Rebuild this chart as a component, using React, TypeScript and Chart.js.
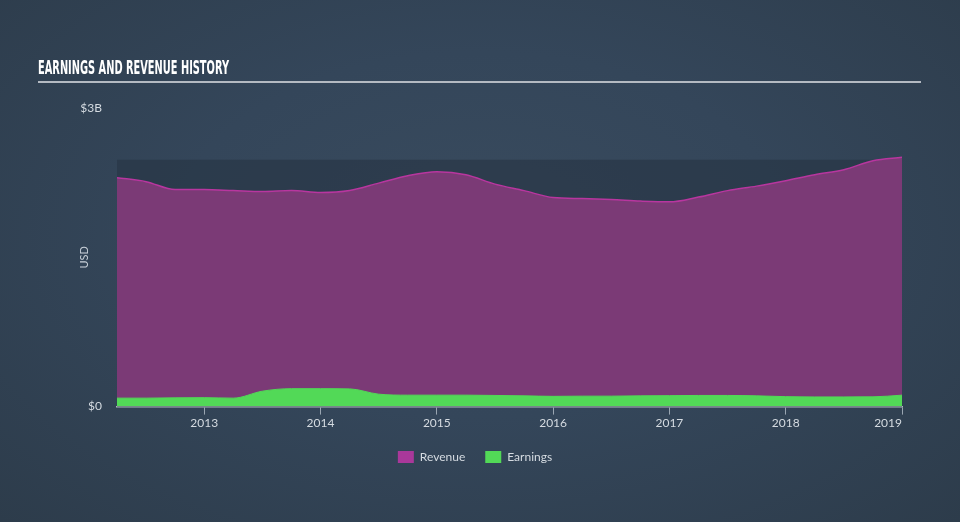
import React, { useEffect, useRef, useLayoutEffect, useState } from "react";
import { Chart, registerables } from "chart.js";

Chart.register(...registerables);

// Quarterly time points (fractional years)
const quarters = [
  2012.25, 2012.5, 2012.75, 2013.0, 2013.25, 2013.5, 2013.75, 2014.0,
  2014.25, 2014.5, 2014.75, 2015.0, 2015.25, 2015.5, 2015.75, 2016.0,
  2016.25, 2016.5, 2016.75, 2017.0, 2017.25, 2017.5, 2017.75, 2018.0,
  2018.25, 2018.5, 2018.75, 2019.0,
];

// Revenue in USD billions
const revenue = [
  2.3, 2.26, 2.18, 2.18, 2.17, 2.16, 2.17, 2.15,
  2.17, 2.245, 2.32, 2.36, 2.33, 2.235, 2.17, 2.1,
  2.09, 2.08, 2.065, 2.057, 2.105, 2.17, 2.215, 2.27,
  2.33, 2.38, 2.47, 2.505,
];

// Earnings in USD billions
const earnings = [
  0.085, 0.085, 0.088, 0.09, 0.085, 0.155, 0.18, 0.18,
  0.178, 0.125, 0.115, 0.115, 0.115, 0.112, 0.108, 0.103,
  0.105, 0.105, 0.108, 0.11, 0.112, 0.112, 0.108, 0.1,
  0.097, 0.097, 0.098, 0.115,
];

const xTickYears = [2013, 2014, 2015, 2016, 2017, 2018, 2019];
const yTickValues = [0, 3];
const yTickLabels = ["$0", "$3B"];
const plotBandTop = 2.48;

const TITLE = "EARNINGS AND REVENUE HISTORY";

export default function App() {
  const canvasRef = useRef<HTMLCanvasElement | null>(null);
  const titleRef = useRef<HTMLSpanElement | null>(null);
  const [scaleX, setScaleX] = useState(1);

  useLayoutEffect(() => {
    if (titleRef.current) {
      const w = titleRef.current.getBoundingClientRect().width;
      if (w > 0) setScaleX(191 / w);
    }
  }, []);

  useEffect(() => {
    if (!canvasRef.current) return;
    const bandPlugin = {
      id: "band",
      beforeDraw(chart: any) {
        // right-align the last x tick label so it ends at its tick
        const xs = chart.scales.x;
        const items = xs.getLabelItems(chart.chartArea);
        if (items && items.length) {
          const last = items[items.length - 1];
          last.options.textAlign = "right";
        }
      },
      beforeDatasetsDraw(chart: any) {
        const { ctx, chartArea, scales } = chart;
        const yTop = scales.y.getPixelForValue(plotBandTop);
        ctx.save();
        ctx.fillStyle = "rgba(38, 52, 66, 0.6)";
        ctx.fillRect(chartArea.left, yTop, chartArea.right - chartArea.left, chartArea.bottom - yTop);
        ctx.restore();
      },
    };
    const chart = new Chart(canvasRef.current, {
      type: "line",
      data: {
        datasets: [
          {
            label: "Revenue",
            data: quarters.map((q, i) => ({ x: q, y: revenue[i] })),
            borderColor: "#b8369f",
            backgroundColor: "#7b3a76",
            borderWidth: 1.5,
            fill: "origin",
            cubicInterpolationMode: "monotone",
            pointRadius: 0,
            order: 1,
          },
          {
            label: "Earnings",
            data: quarters.map((q, i) => ({ x: q, y: earnings[i] })),
            borderColor: "#52d957",
            backgroundColor: "#52d957",
            borderWidth: 1,
            fill: "origin",
            cubicInterpolationMode: "monotone",
            pointRadius: 0,
            order: 0,
          },
        ],
      },
      plugins: [bandPlugin],
      options: {
        animation: false,
        responsive: false,
        devicePixelRatio: 1,
        layout: { padding: { left: 48, right: 58, top: 108, bottom: 49 } },
        plugins: {
          legend: {
            position: "bottom",
            labels: {
              boxWidth: 16,
              boxHeight: 12,
              color: "#d5dbe1",
              padding: 20,
              font: { family: "Lato, 'Open Sans', sans-serif", size: 12 },
              generateLabels: (chart: any) =>
                chart.data.datasets.map((ds: any, i: number) => ({
                  text: ds.label,
                  fillStyle: i === 0 ? "#a9389a" : "#52d957",
                  strokeStyle: "transparent",
                  lineWidth: 0,
                  fontColor: "#d5dbe1",
                  datasetIndex: i,
                  hidden: false,
                })),
            },
          },
          tooltip: { enabled: false },
        },
        scales: {
          x: {
            type: "linear",
            min: quarters[0],
            max: quarters[quarters.length - 1],
            afterBuildTicks: (scale: any) => {
              scale.ticks = xTickYears.map((v) => ({ value: v }));
            },
            ticks: {
              color: "#d5dbe1",
              padding: 1,
              maxRotation: 0,
              autoSkip: false,
              font: { family: "Lato, 'Open Sans', sans-serif", size: 12 },
              callback: (v: any) => String(v),
            },
            grid: {
              drawOnChartArea: false,
              drawTicks: true,
              tickLength: 8,
              color: "#9aa6b2",
              lineWidth: 1,
            },
            border: { display: true, color: "#b0b8c2", width: 1.5 },
          },
          y: {
            type: "linear",
            min: 0,
            max: 3,
            afterBuildTicks: (scale: any) => {
              scale.ticks = yTickValues.map((v) => ({ value: v }));
            },
            afterFit: (scale: any) => {
              scale.width = 69;
            },
            ticks: {
              color: "#d5dbe1",
              padding: 15,
              font: { family: "Lato, 'Open Sans', sans-serif", size: 12 },
              callback: (v: any) => yTickLabels[yTickValues.indexOf(Number(v))] ?? "",
            },
            grid: { display: false, drawTicks: false },
            border: { display: false },
            title: {
              display: true,
              text: "USD",
              color: "#c8d0d8",
              font: { family: "Lato, 'Open Sans', sans-serif", size: 11 },
              padding: { top: 30, bottom: 0 },
            },
          },
        },
      },
    });
    return () => chart.destroy();
  }, []);

  return (
    <div
      style={{
        position: "fixed",
        left: 0,
        top: 0,
        width: 960,
        height: 522,
        overflow: "hidden",
        background: "radial-gradient(ellipse at 50% 45%, #394b5e 0%, #34465a 45%, #2d3c4b 100%)",
      }}
    >
      <div
        style={{
          position: "absolute",
          left: 38,
          top: 56,
          whiteSpace: "nowrap",
          transformOrigin: "left top",
          transform: `scaleX(${scaleX})`,
        }}
      >
        <span
          ref={titleRef}
          style={{
            fontFamily: "'DejaVu Sans Condensed', 'Liberation Sans', sans-serif",
            fontWeight: 700,
            fontSize: 20,
            color: "#ffffff",
            lineHeight: "22px",
          }}
        >
          {TITLE}
        </span>
      </div>
      <div
        style={{
          position: "absolute",
          left: 38,
          top: 81,
          width: 883,
          height: 2,
          background: "#b4bac2",
        }}
      />
      <canvas ref={canvasRef} width={960} height={522} style={{ position: "absolute", left: 0, top: 0 }} />
    </div>
  );
}
